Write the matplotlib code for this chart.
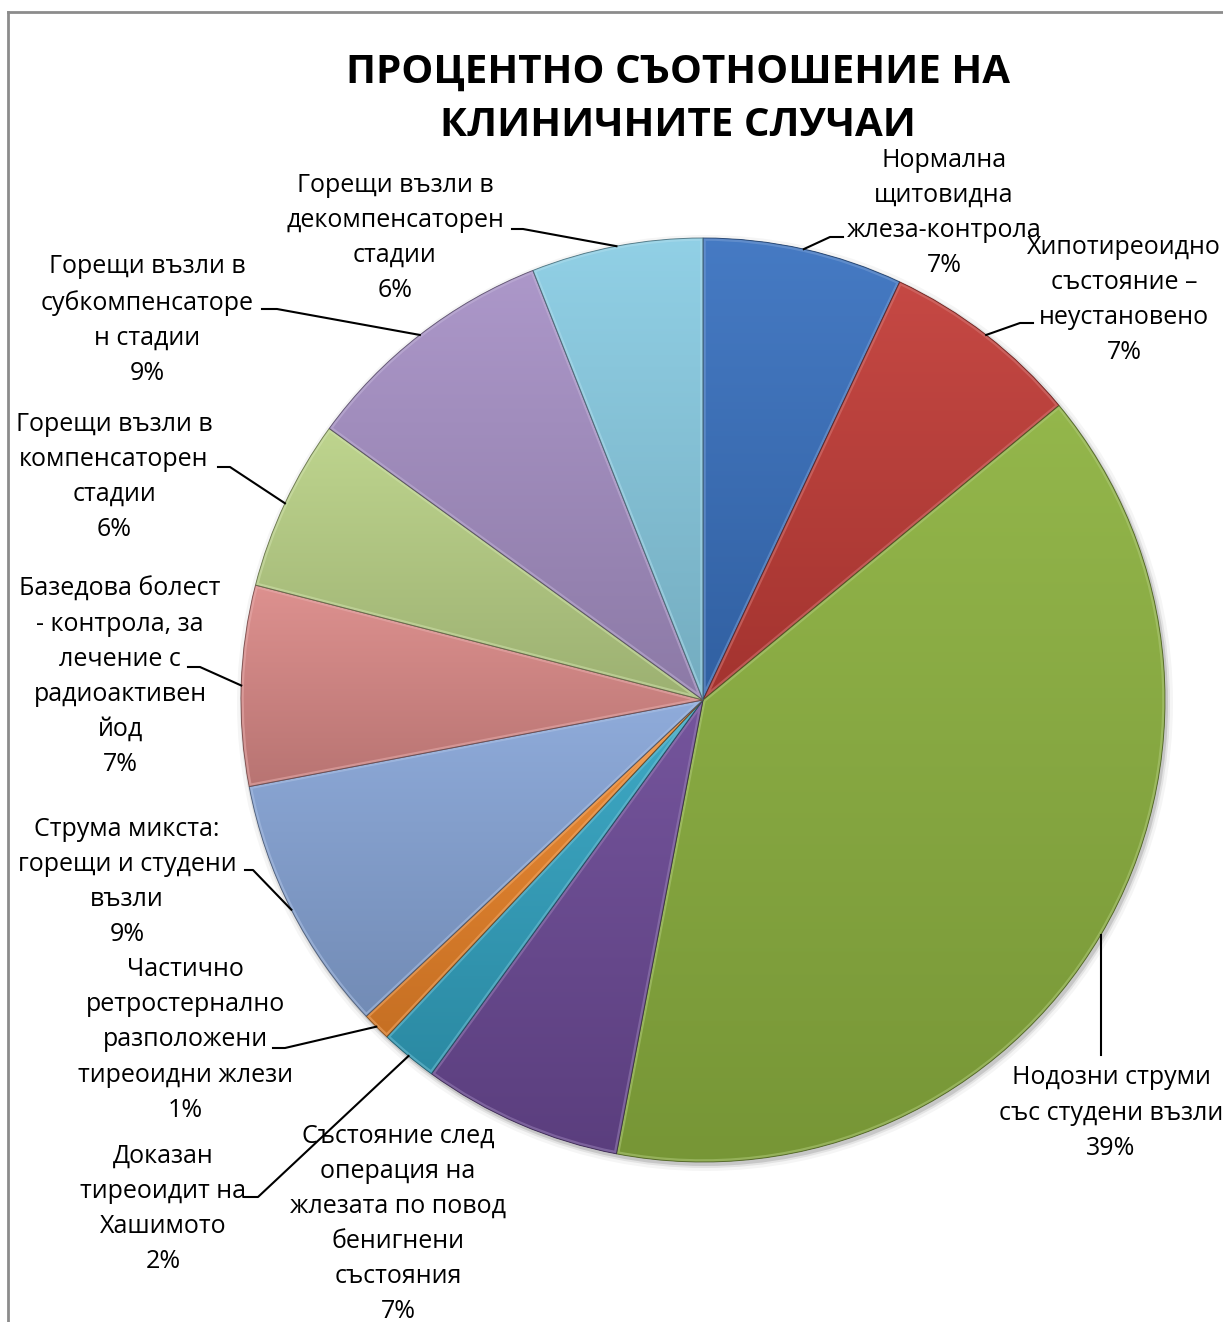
import numpy as np
import matplotlib
matplotlib.use("Agg")
import matplotlib.pyplot as plt
from matplotlib.patches import Wedge, Circle
from matplotlib.colors import to_rgb

plt.rcParams['font.family'] = ['Open Sans', 'DejaVu Sans']

title = "ПРОЦЕНТНО СЪОТНОШЕНИЕ НА\nКЛИНИЧНИТЕ СЛУЧАИ"

categories = [
	"Нормална\nщитовидна\nжлеза-контрола",
	"Хипотиреоидно\nсъстояние –\nнеустановено",
	"Нодозни струми\nсъс студени възли",
	"Състояние след\nоперация на\nжлезата по повод\nбенигнени\nсъстояния",
	"Доказан\nтиреоидит на\nХашимото",
	"Частично\nретростернално\nразположени\nтиреоидни жлези",
	"Струма микста:\nгорещи и студени\nвъзли",
	"Базедова болест\n- контрола, за\nлечение с\nрадиоактивен\nйод",
	"Горещи възли в\nкомпенсаторен\nстадии",
	"Горещи възли в\nсубкомпенсаторе\nн стадии",
	"Горещи възли в\nдекомпенсаторен\nстадии",
]
percents = [7, 7, 39, 7, 2, 1, 9, 7, 6, 9, 6]
colors = ['#3A72C0', '#C23D38', '#8DB240', '#6C4A96', '#33A4C2', '#EC852A',
          '#88A6D8', '#DB8A88', '#BAD287', '#A791C6', '#8ACDE4']

# label block centres (pixels) and leader start / hook end, None = no leader
label_pos = [(944, 213), (1124, 300), (1111, 1113), (398, 1224), (163, 1209),
             (185, 1040), (127, 882), (120, 677), (114, 477), (147, 320), (395, 238)]
leaders = [((843, 237), (830, 237)), ((1033, 323), (1020, 323)), 'vertical', None,
           ((245, 1197), (258, 1197)), ((273, 1048), (285, 1048)), ((245, 870), (253, 870)),
           ((188, 667), (200, 667)), ((218, 467), (230, 467)), ((262, 309), (277, 309)),
           ((512, 229), (523, 229))]

W, H = 1223, 1322
cx, cy, R = 703, 700, 462


def _mix(c, f):
	c = np.array(to_rgb(c))
	if f >= 0:
		return c + (1 - c) * f
	return c * (1 + f)


fig = plt.figure(figsize=(W / 100, H / 100), dpi=100)
ax = fig.add_axes([0, 0, 1, 1])

# soft shadow under the pie
for dr, a in [(6, 0.04), (3, 0.07), (1, 0.12)]:
	ax.add_patch(Circle((cx + 2, cy + 3), R + dr, color='black', alpha=a, lw=0, zorder=0))

wedges, _ = ax.pie(percents, colors=colors, startangle=-90, counterclock=True,
                   center=(cx, cy), radius=R, wedgeprops=dict(linewidth=0, zorder=1))

for w, c in zip(wedges, colors):
	v = w.get_path().vertices
	x0, x1 = v[:, 0].min(), v[:, 0].max()
	y0, y1 = v[:, 1].min(), v[:, 1].max()
	t = np.linspace(0, 1, 256)[:, None]
	grad = _mix(c, 0.06)[None, :] * (1 - t) + _mix(c, -0.16)[None, :] * t
	im = ax.imshow(grad[:, None, :], extent=(x0, x1, y1, y0), origin='upper',
	               aspect='auto', interpolation='bilinear', zorder=2)
	im.set_clip_path(w)
	hi = Wedge((cx, cy), R, w.theta1, w.theta2, facecolor='none',
	           edgecolor=_mix(c, 0.3), lw=4, alpha=0.55, zorder=3)
	ax.add_patch(hi)
	hi.set_clip_path(w)
	ax.add_patch(Wedge((cx, cy), R, w.theta1, w.theta2, facecolor='none',
	                   edgecolor=_mix(c, -0.5), lw=0.7, alpha=0.8, zorder=3))

for w, lab, p, pos, ld in zip(wedges, categories, percents, label_pos, leaders):
	ax.text(pos[0], pos[1], lab + "\n" + str(p) + "%", ha='center', va='center',
	        fontsize=18, linespacing=1.53, color='black', zorder=5)
	if ld is None:
		continue
	th = np.radians((w.theta1 + w.theta2) / 2)
	ex, ey = cx + R * np.cos(th), cy + R * np.sin(th)
	if ld == 'vertical':
		ax.plot([ex, ex], [1055, ey], color='black', lw=1.5, zorder=4)
	else:
		ax.plot([ld[0][0], ld[1][0], ex], [ld[0][1], ld[1][1], ey], color='black', lw=1.5, zorder=4)

ax.text(678, 99, title, ha='center', va='center', fontsize=29, fontweight='bold',
        linespacing=1.5, zorder=5)

# chart area border
ax.plot([8, 8], [H, 12], color='#8C8C8C', lw=2, clip_on=False, zorder=6)
ax.plot([8, W], [12, 12], color='#8C8C8C', lw=2, clip_on=False, zorder=6)

ax.set_xlim(0, W)
ax.set_ylim(H, 0)
ax.set_aspect('equal')
ax.axis('off')

fig.savefig("out.png", dpi=100, facecolor='white')
